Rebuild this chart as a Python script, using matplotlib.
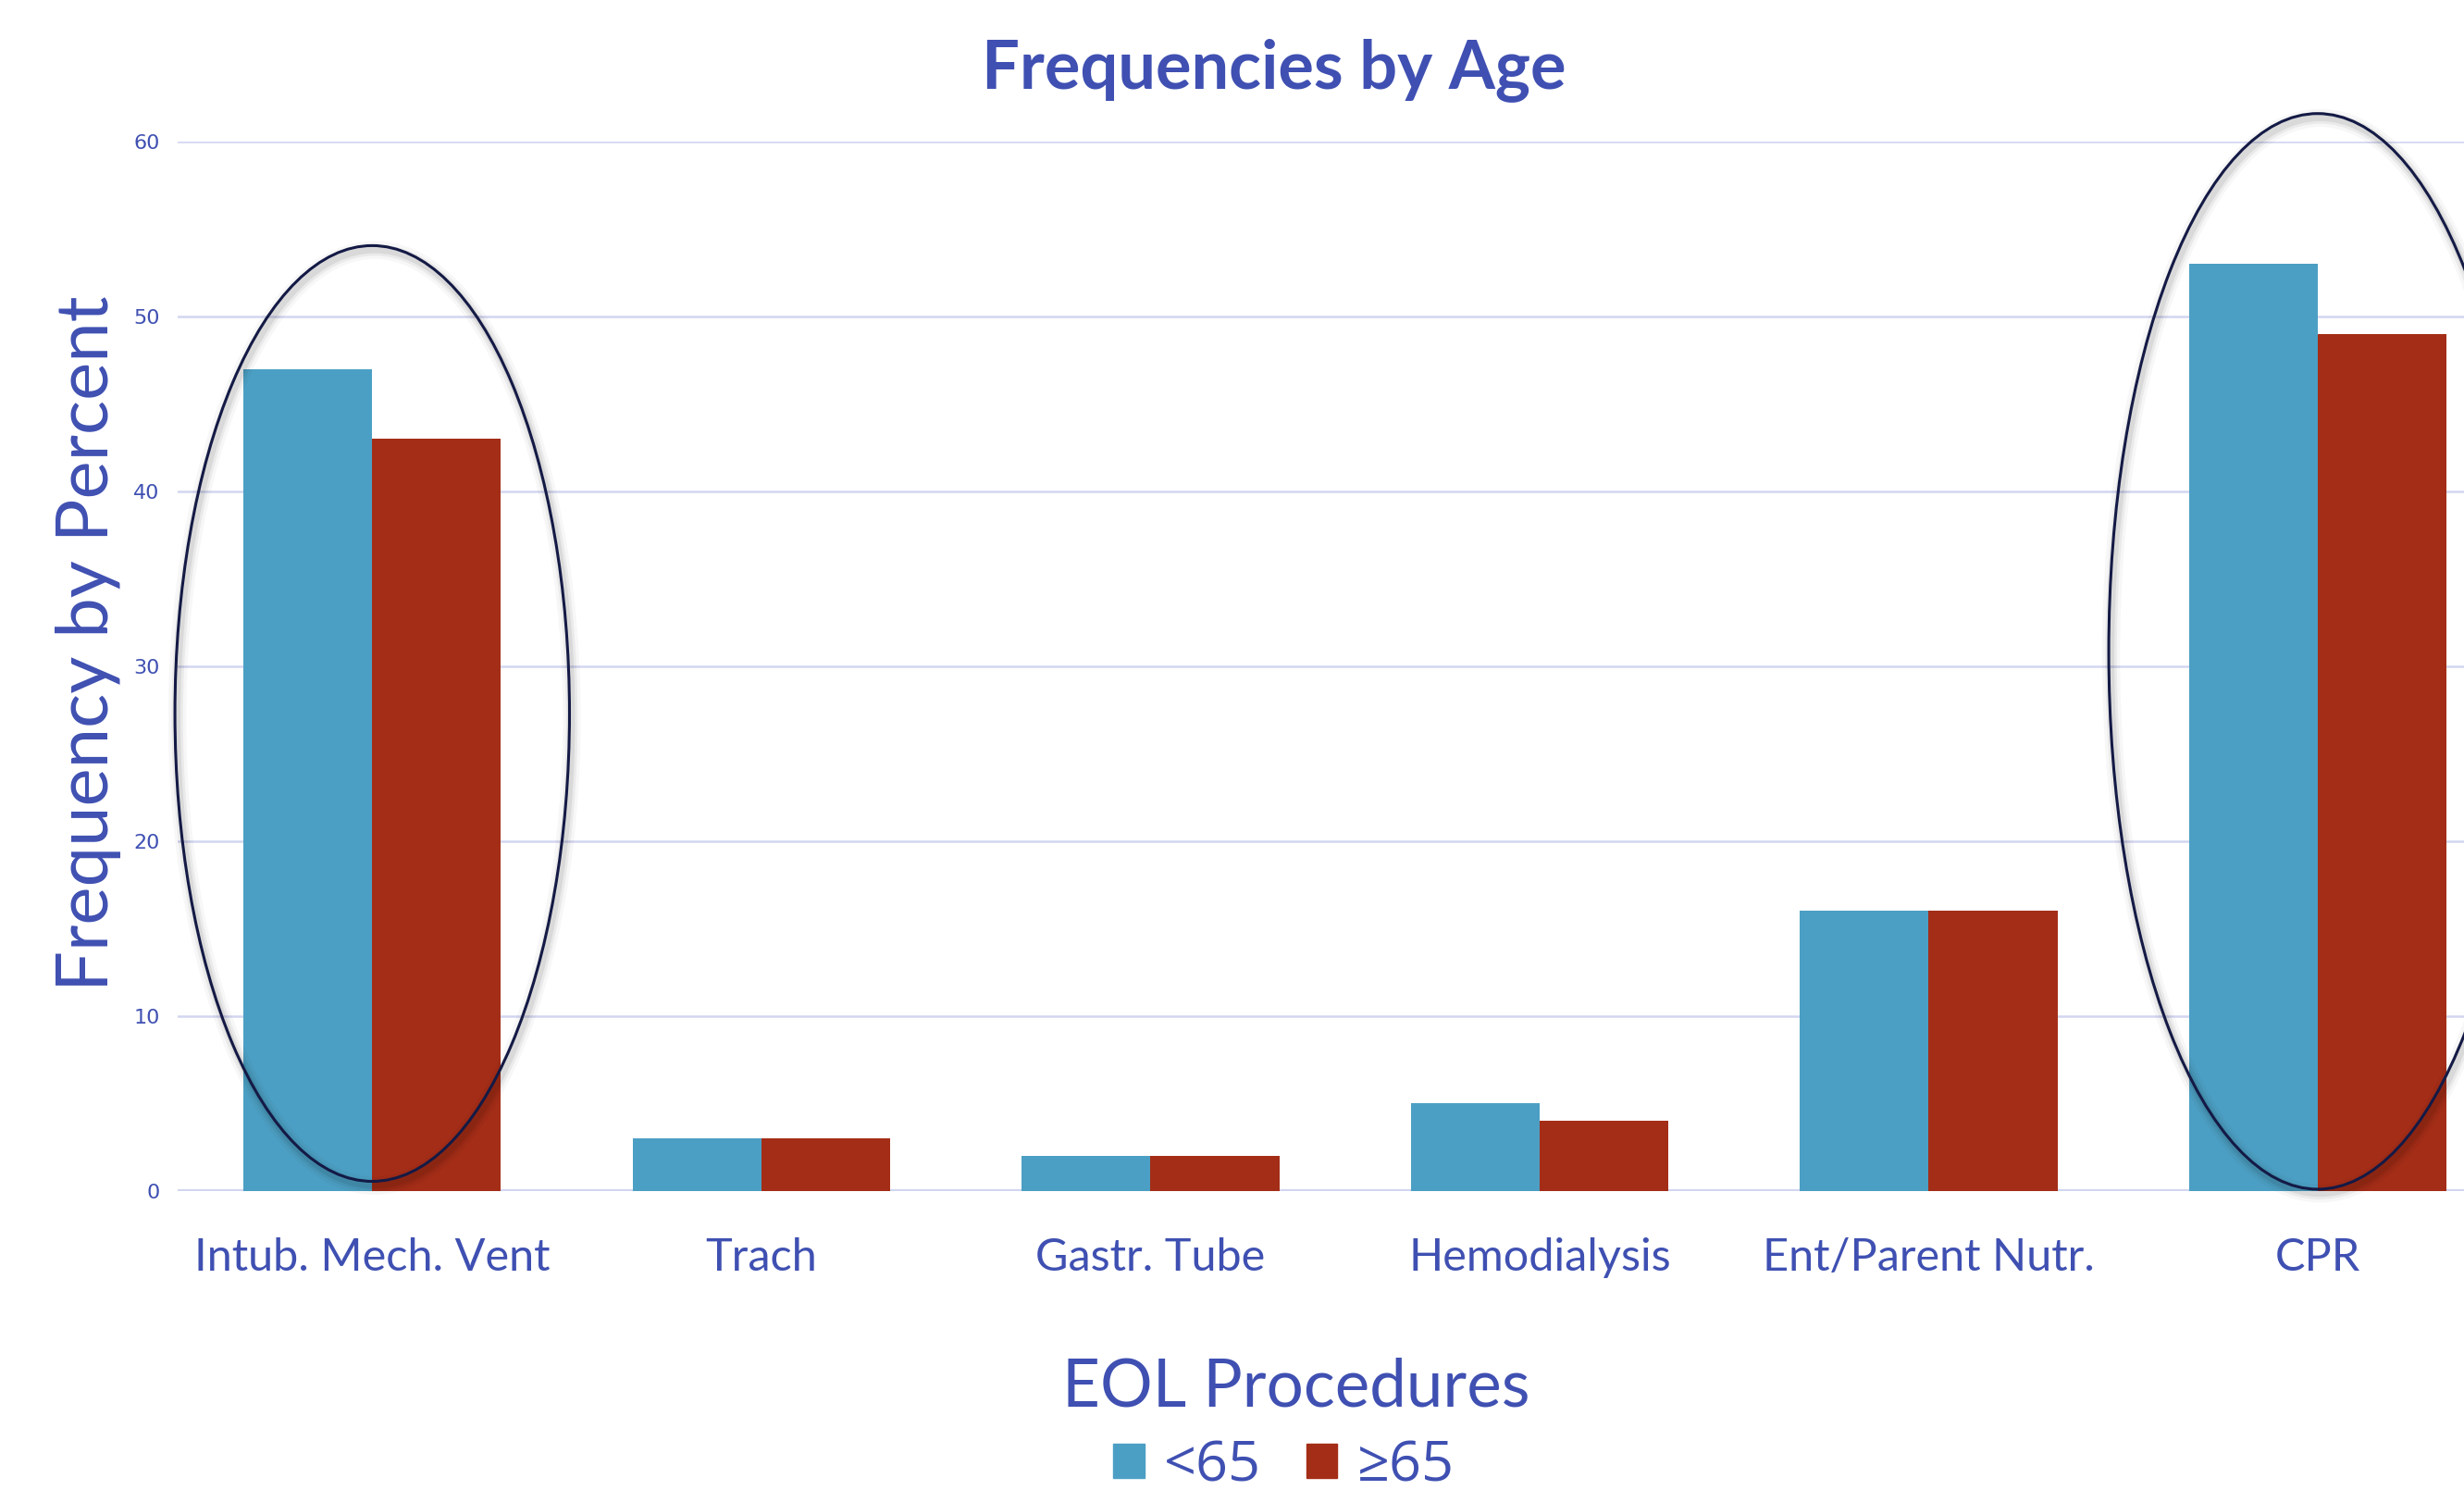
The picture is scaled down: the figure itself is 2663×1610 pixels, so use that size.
import matplotlib
matplotlib.use("Agg")
import matplotlib.pyplot as plt
from matplotlib.patches import Ellipse, Patch
import numpy as np

plt.rcParams['font.family'] = ['Lato', 'DejaVu Sans']

# data
categories = ["Intub. Mech. Vent", "Trach", "Gastr. Tube",
              "Hemodialysis", "Ent/Parent Nutr.", "CPR"]
under_65 = [47, 3, 2, 5, 16, 53]
over_65 = [43, 3, 2, 4, 16, 49]
series_labels = ["<65", "\u226565"]
y_ticks = [0, 10, 20, 30, 40, 50, 60]

TEXT = "#3F50B2"
BLUE = "#4C9FC4"
RED = "#A42D17"
GRID = "#D3D6F0"
RING = "#141a45"

fig = plt.figure(figsize=(26.63, 16.10), dpi=100)
ax = fig.add_axes([0.0721, 0.2007, 0.9279, 0.7043])

x = np.arange(len(categories))
w = 0.331
ax.bar(x - w / 2, under_65, width=w, color=BLUE, zorder=2)
ax.bar(x + w / 2, over_65, width=w, color=RED, zorder=2)

ax.set_xlim(-0.5, 5.376)
ax.set_ylim(0, 60)
ax.set_yticks(y_ticks)
ax.yaxis.grid(True, color=GRID, linewidth=1.8, zorder=0)
ax.set_axisbelow(True)
for s in ax.spines.values():
    s.set_visible(False)
ax.axhline(0, color=GRID, linewidth=3, zorder=1)
ax.tick_params(axis='both', length=0)
ax.tick_params(axis='y', pad=14)
for lab in ax.get_yticklabels():
    lab.set_family('DejaVu Sans')
    lab.set_fontsize(16)
    lab.set_color(TEXT)

ax.set_xticks(x)
ax.set_xticklabels(categories, fontsize=35, color=TEXT)
ax.tick_params(axis='x', pad=36)

# highlight rings around the first and last groups
rings = [(0, 27.3, 1.014, 53.5), (5, 30.85, 1.074, 61.5)]
for cx, cy, ew, eh in rings:
    for lw, a in [(14, 0.03), (9, 0.05), (5, 0.07)]:
        ax.add_patch(Ellipse((cx + 0.006, cy - 0.25), ew, eh, fill=False,
                             edgecolor='black', linewidth=lw, alpha=a,
                             zorder=3, clip_on=False))
    ax.add_patch(Ellipse((cx, cy), ew, eh, fill=False, edgecolor=RING,
                         linewidth=2.2, zorder=4, clip_on=False))

fig.text(0.517, 0.953, "Frequencies by Age", fontsize=52, fontweight='bold',
         color=TEXT, ha='center', va='center')
fig.text(0.036, 0.568, "Frequency by Percent", fontsize=56, color=TEXT,
         rotation=90, ha='center', va='center')
fig.text(0.526, 0.069, "EOL Procedures", fontsize=51, color=TEXT,
         ha='center', va='center')

handles = [Patch(color=BLUE), Patch(color=RED)]
leg = fig.legend(handles, series_labels, loc='center', ncol=2,
                 bbox_to_anchor=(0.521, 0.016), frameon=False, fontsize=44,
                 handlelength=0.55, handleheight=0.55, handletextpad=0.35,
                 columnspacing=0.8)
for t in leg.get_texts():
    t.set_color(TEXT)
    t.set_family(['Open Sans', 'DejaVu Sans'])

fig.savefig("out.png", dpi=100, facecolor='white')
